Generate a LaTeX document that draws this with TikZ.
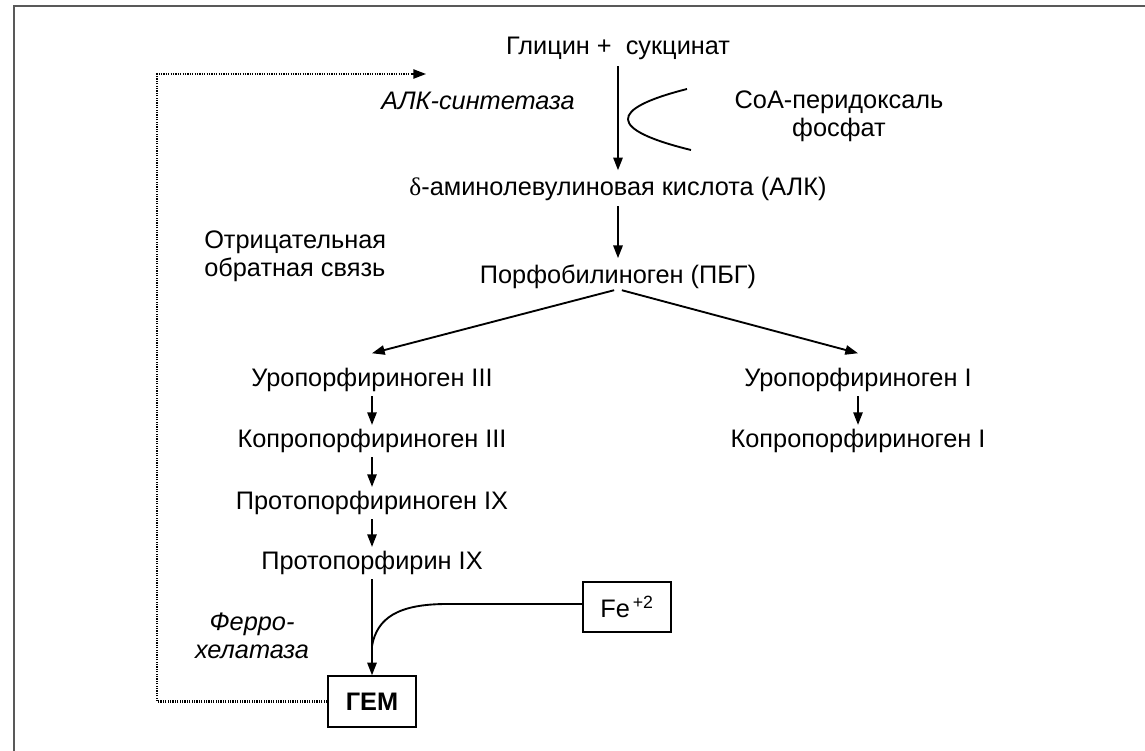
\documentclass[tikz,border=0pt]{standalone}
\usepackage{fontspec}
\setmainfont{Liberation Sans}
\newfontfamily\grk{Liberation Serif}
\usetikzlibrary{arrows.meta}
\begin{document}
\begin{tikzpicture}[x=0.75pt,y=-0.75pt,
  lbl/.style={inner sep=0pt, align=center, font=\fontsize{19}{21}\selectfont},
  itl/.style={lbl, font=\fontsize{19}{21}\selectfont\itshape},
  tip/.style={-{Triangle[length=9.5pt,width=7pt]}},
  arr/.style={line width=1.4pt, tip},
  ln/.style={line width=1.4pt},
  dotln/.style={line width=2pt, dash pattern=on 0.9pt off 0.9pt},
  bx/.style={draw, line width=1.3pt, inner sep=0pt, minimum width=66pt, minimum height=38pt},
  frame/.style={draw=black!65, line width=1.3pt}
]
\useasboundingbox (0,0) rectangle (1145,750);
\fill[white] (0,0) rectangle (1145,750);
\draw[frame] (14,752) -- (14,6) -- (1147,6);

% main chain
\node[lbl] (gly) at (618,48) {Глицин +\ \ сукцинат};
\node[itl] (alks) at (478,101) {АЛК-синтетаза};
\node[lbl] (coa) at (839,116) {СоА-перидоксаль\\фосфат};
\node[lbl] (ala) at (618,189) {{\grk δ}-аминолевулиновая кислота (АЛК)};
\node[lbl, align=left, anchor=west] (neg) at (204,256) {Отрицательная\\обратная связь};
\node[lbl] (pbg) at (618,277) {Порфобилиноген (ПБГ)};

% left branch
\node[lbl] (uro3) at (372,380) {Уропорфириноген III};
\node[lbl] (copro3) at (372,441) {Копропорфириноген III};
\node[lbl] (protogen) at (372,503) {Протопорфириноген IX};
\node[lbl] (proto) at (372,563) {Протопорфирин IX};
\node[bx, font=\fontsize{19}{21}\selectfont\bfseries] (gem) at (372,701.5) {ГЕМ};
\node[itl] (ferro) at (252,636) {Ферро-\\хелатаза};
\node[bx, font=\fontsize{19}{21}\selectfont] (fe) at (627,607) {Fe\textsuperscript{\,+2}};

% right branch
\node[lbl] (uro1) at (858,380) {Уропорфириноген I};
\node[lbl] (copro1) at (858,441) {Копропорфириноген I};

% arrows
\draw[arr, shorten <=5pt, shorten >=5pt] (gly) -- (ala);
\draw[ln] (687,89) .. controls (607,109.3) and (608.3,129.7) .. (691,150);
\draw[arr, shorten <=4pt, shorten >=5pt] (ala) -- (pbg);
\draw[arr, shorten <=3pt] (pbg.south) -- ([yshift=11pt]uro3.north);
\draw[arr, shorten <=3pt] (pbg.south) -- ([yshift=11pt]uro1.north);
\draw[arr, shorten <=3pt, shorten >=3pt] (uro3) -- (copro3);
\draw[arr, shorten <=3pt, shorten >=3pt] (copro3) -- (protogen);
\draw[arr, shorten <=3pt, shorten >=3pt] (protogen) -- (proto);
\draw[arr, shorten <=3pt] (proto) -- (gem);
\draw[arr, shorten <=3pt, shorten >=3pt] (uro1) -- (copro1);

% iron joins
\coordinate (join) at (372,646);
\draw[ln] (fe.west |- 0,604) -- (447,604) .. controls (398,604) and (377,618) .. (join);

% negative feedback
\coordinate (fbtip) at (426,74);
\draw[dotln] (gem.west) -- (157,701.5) -- (157,74) -- (414,74);
\draw[line width=1pt, tip] (412,74) -- (fbtip);
\end{tikzpicture}
\end{document}
